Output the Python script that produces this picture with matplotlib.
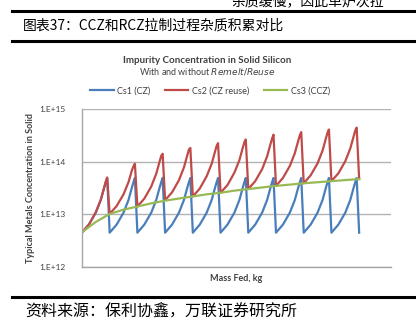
#!/usr/bin/env python3
"""
Impurity accumulation in solid silicon: CZ, CZ with melt reuse, and CCZ.
Values are concentrations in atoms/cm3 on a log scale; x is mass fed,
counted in batch cycles.
"""

import matplotlib.pyplot as plt
from matplotlib.lines import Line2D

plt.rcParams["font.family"] = ["Lato", "DejaVu Sans"]

CJK = ["Noto Sans CJK SC", "DejaVu Sans"]
BLUE = "#4a7ebb"
RED = "#be4b48"
GREEN = "#98b954"
TEXT = "#404040"

N_CYCLES = 10
# sample points inside one batch cycle (fraction of the cycle)
CYCLE_POS = [0.0, 0.25, 0.5, 0.68, 0.8, 0.86, 0.91]

# Cs1 (CZ): every batch starts from fresh melt, so each cycle looks the same
CS1_CYCLE = [4.5e12, 6.4e12, 1.08e13, 1.88e13, 3.2e13, 4.1e13, 4.9e13]
CS1_END = 4.5e12

# Cs2 (CZ reuse): residual melt is carried over, troughs and peaks climb
CS2_CYCLES = [
    [4.6e12, 6.4e12, 1.10e13, 1.90e13, 3.2e13, 4.2e13, 5.0e13],
    [1.02e13, 1.44e13, 2.40e13, 4.1e13, 6.8e13, 8.2e13, 9.1e13],
    [1.41e13, 1.99e13, 3.38e13, 5.9e13, 1.00e14, 1.29e14, 1.41e14],
    [1.86e13, 2.62e13, 4.46e13, 7.8e13, 1.32e14, 1.70e14, 1.82e14],
    [2.19e13, 3.09e13, 5.3e13, 9.1e13, 1.55e14, 2.00e14, 2.24e14],
    [2.57e13, 3.6e13, 6.2e13, 1.07e14, 1.82e14, 2.34e14, 2.63e14],
    [3.02e13, 4.26e13, 7.2e13, 1.26e14, 2.14e14, 2.75e14, 3.24e14],
    [3.47e13, 4.9e13, 8.3e13, 1.45e14, 2.46e14, 3.16e14, 3.63e14],
    [3.89e13, 5.5e13, 9.3e13, 1.62e14, 2.75e14, 3.55e14, 4.07e14],
    [4.27e13, 6.0e13, 1.02e14, 1.78e14, 3.00e14, 3.90e14, 4.42e14],
]
CS2_END = 4.68e13

# Cs3 (CCZ): smooth build-up, sampled every half cycle
CS3_X = [0, 0.5, 1, 1.5, 2, 2.5, 3, 3.5, 4, 4.5, 5,
         5.5, 6, 6.5, 7, 7.5, 8, 8.5, 9, 9.5, 10]
CS3 = [4.6e12, 7.2e12, 1.02e13, 1.23e13, 1.41e13, 1.62e13, 1.82e13,
       2.00e13, 2.19e13, 2.40e13, 2.57e13, 2.82e13, 3.02e13, 3.24e13,
       3.47e13, 3.67e13, 3.89e13, 4.07e13, 4.27e13, 4.47e13, 4.68e13]

Y_TICKS = [1e12, 1e13, 1e14, 1e15]
Y_TICK_LABELS = ["1.E+12", "1.E+13", "1.E+14", "1.E+15"]


def sawtooth(cycles, end_value):
    xs, ys = [], []
    for i, cycle in enumerate(cycles):
        xs.extend(i + p for p in CYCLE_POS)
        ys.extend(cycle)
    xs.append(len(cycles))
    ys.append(end_value)
    return xs, ys


fig = plt.figure(figsize=(4.16, 3.25), dpi=100)

# report frame: rules and captions around the chart
for y in (0.965, 0.873, 0.085):
    fig.add_artist(Line2D([0.029, 1.0], [y, y], color="black", linewidth=2.2))
fig.text(0.555, 0.995, "杂质缓慢，因此单炉次拉", family=CJK, fontsize=10,
         va="center", ha="left", color="black")
fig.text(0.055, 0.92, "图表37：CCZ和RCZ拉制过程杂质积累对比", family=CJK,
         fontsize=10, va="center", ha="left", color="black")
fig.text(0.06, 0.04, "资料来源：保利协鑫，万联证券研究所", family=CJK,
         fontsize=11.5, va="center", ha="left", color="black")

ax = fig.add_axes([0.197, 0.178, 0.743, 0.487])

x1, y1 = sawtooth([CS1_CYCLE] * N_CYCLES, CS1_END)
x2, y2 = sawtooth(CS2_CYCLES, CS2_END)
ax.plot(x1, y1, color=BLUE, linewidth=1.6, label="Cs1 (CZ)")
ax.plot(x2, y2, color=RED, linewidth=1.6, label="Cs2 (CZ reuse)")
ax.plot(CS3_X, CS3, color=GREEN, linewidth=1.6, label="Cs3 (CCZ)")

ax.set_yscale("log")
ax.set_ylim(1e12, 1e15)
ax.set_xlim(0, 11.15)
ax.set_yticks(Y_TICKS)
ax.set_yticklabels(Y_TICK_LABELS)
ax.minorticks_off()
ax.set_xticks([])
ax.tick_params(axis="y", length=0, pad=12, labelsize=6, labelcolor=TEXT)
ax.grid(True, axis="y", color="#b3b3b3", linewidth=1)
ax.set_axisbelow(True)
for side in ("top", "right"):
    ax.spines[side].set_visible(False)
for side in ("left", "bottom"):
    ax.spines[side].set_color("#a6a6a6")
    ax.spines[side].set_linewidth(1)

ax.set_ylabel("Typical Metals Concentration in Solid", fontsize=6.5,
              fontweight="bold", color=TEXT, labelpad=3)
ax.set_xlabel("Mass Fed, kg", fontsize=6.5, fontweight="bold", color=TEXT,
              labelpad=5)

fig.text(0.497, 0.813, "Impurity Concentration in Solid Silicon",
         fontsize=7, fontweight="bold", color=TEXT, ha="center", va="center")
fig.text(0.497, 0.779, "With and without $\\it{Remelt/Reuse}$",
         fontsize=6.5, color=TEXT, ha="center", va="center")

ax.legend(loc="center", bbox_to_anchor=(0.505, 0.72),
          bbox_transform=fig.transFigure, ncol=3, frameon=False,
          fontsize=6.5, handlelength=2.6, columnspacing=1.6,
          handletextpad=0.4, labelcolor=TEXT)

fig.savefig("out.png", dpi=100)
